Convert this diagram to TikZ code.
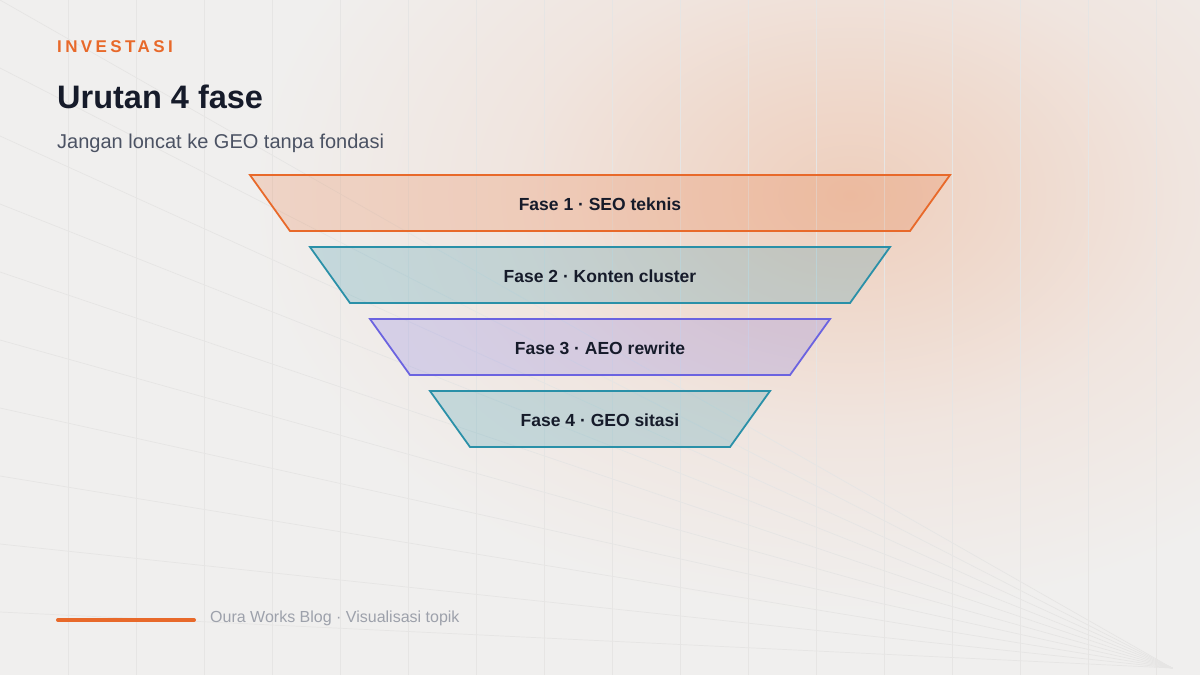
\documentclass[tikz,border=0pt]{standalone}
\usepackage{fontspec}
\setmainfont{Liberation Sans}
\definecolor{bg}{HTML}{F0EFEE}
\definecolor{accent}{HTML}{E8692A}
\definecolor{tealc}{HTML}{2A90A8}
\definecolor{purp}{HTML}{6B63E0}
\definecolor{ink}{HTML}{161B2A}
\definecolor{subc}{HTML}{4B5263}
\definecolor{footc}{HTML}{9DA1AB}
\definecolor{gridc}{HTML}{E6E5E4}
\definecolor{g0}{HTML}{EECFBD}
\definecolor{g1}{HTML}{EFD8CB}
\definecolor{g2}{HTML}{F0E5DF}
\pgfdeclareradialshading{glowshade}{\pgfpoint{0bp}{0bp}}{color(0bp)=(g0); color(6bp)=(g1); color(14bp)=(g2); color(25bp)=(bg); color(50bp)=(bg)}
\tikzset{
  phaseshape/.style={line width=1.8pt, line join=miter},
  ph1/.style={phaseshape, draw=accent, fill=accent, fill opacity=0.2},
  ph2/.style={phaseshape, draw=tealc, fill=tealc, fill opacity=0.22},
  ph3/.style={phaseshape, draw=purp, fill=purp, fill opacity=0.2},
  lbl/.style={inner sep=0pt, text=ink, font=\bfseries\fontsize{17.5}{20}\selectfont},
  gridline/.style={draw=gridc, line width=0.7pt},
  txt/.style={anchor=base west, inner sep=0pt}
}
\begin{document}
\begin{tikzpicture}[x=1pt,y=-1pt]
\useasboundingbox (0,0) rectangle (1200,675);
\fill[bg] (0,0) rectangle (1200,675);
\shade[shading=glowshade] (850,195) ellipse [x radius=600, y radius=420];
% grid
\foreach \x in {68,136,...,1156} \draw[gridline] (\x,0) -- (\x,675);
\coordinate (vp) at (1172,668);
\foreach \y in {0,68,...,612} \draw[gridline] (0,\y) -- (vp);
% funnel
\draw[ph1] (250,175) -- (950,175) -- (910,231) -- (290,231) -- cycle;
\draw[ph2] (310,247) -- (890,247) -- (850,303) -- (350,303) -- cycle;
\draw[ph3] (370,319) -- (830,319) -- (790,375) -- (410,375) -- cycle;
\draw[ph2] (430,391) -- (770,391) -- (730,447) -- (470,447) -- cycle;
\node[lbl] (f1) at (600,204) {Fase 1 · SEO teknis};
\node[lbl] (f2) at (600,276) {Fase 2 · Konten cluster};
\node[lbl] (f3) at (600,348) {Fase 3 · AEO rewrite};
\node[lbl] (f4) at (600,420) {Fase 4 · GEO sitasi};
% header
\node[txt, text=accent, font=\bfseries\fontsize{17}{20}\selectfont\addfontfeature{LetterSpace=20}] (kicker) at (57,52) {INVESTASI};
\node[txt, text=ink, font=\bfseries\fontsize{32.5}{36}\selectfont] (title) at (57,108) {Urutan 4 fase};
\node[txt, text=subc, font=\fontsize{20}{24}\selectfont] (subtitle) at (57,148) {Jangan loncat ke GEO tanpa fondasi};
% footer
\coordinate (fa) at (58,620);
\coordinate (fb) at (194,620);
\draw[accent, line width=4pt, line cap=round] (fa) -- (fb);
\node[txt, text=footc, font=\fontsize{16}{19}\selectfont] (footer) at (210,622) {Oura Works Blog · Visualisasi topik};
\end{tikzpicture}
\end{document}
